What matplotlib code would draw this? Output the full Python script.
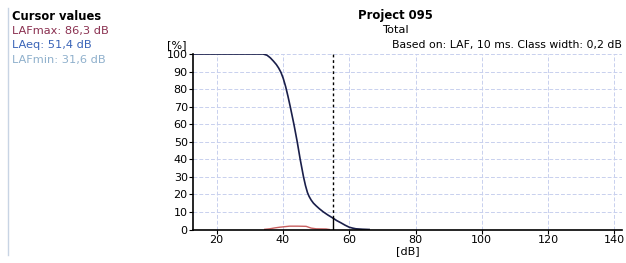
import numpy as np
import matplotlib.pyplot as plt

# cumulative distribution (% of time level exceeded)
level_db = [12.9, 34.0, 35.2, 36.2, 37.1, 38.0, 38.7, 39.4, 40.1, 40.8, 41.5, 42.2, 43.3, 44.3,
            45.2, 46.2, 46.8, 47.4, 47.9, 48.5, 49.2, 50.0, 51.0, 52.2, 53.6, 55.0, 56.2,
            57.5, 58.8, 60.0, 61.0, 62.0, 64.0, 66.0]
exceed_pct = [100, 100, 99.3, 97.8, 96.0, 94.0, 92.0, 89.5, 86.0, 81.5, 76.0, 70, 60, 50,
              40, 30, 25, 21, 18.8, 16.8, 15.0, 13.5, 11.8, 10, 8.2, 6.6, 5.1,
              3.8, 2.4, 1.3, 0.8, 0.4, 0.15, 0.0]

# level distribution per class (%)
dist_db = [34.5, 36.0, 37.5, 39.0, 40.5, 42.0, 44.5, 47.0, 48.5, 50.0, 53.0, 54.0]
dist_pct = [0.1, 0.4, 0.9, 1.3, 1.6, 1.9, 1.9, 1.8, 0.8, 0.4, 0.3, 0.0]

cursor_db = 55.0
cursor_pct = 6.6

cursor_labels = ['LAFmax: 86,3 dB', 'LAeq: 51,4 dB', 'LAFmin: 31,6 dB']
cursor_colors = ['#8a3050', '#3a64b8', '#8fb0cc']

plt.rcParams['font.family'] = 'DejaVu Sans'
fig = plt.figure(figsize=(6.26, 2.63), dpi=100)
ax = fig.add_axes([193.3 / 626, 1 - 229.5 / 263, (621.7 - 193.3) / 626, (229.5 - 54) / 263])

ax.plot(dist_db, dist_pct, color='#c86060', linewidth=1.0)
ax.plot(level_db, exceed_pct, color='#1a1f4a', linewidth=1.2)
ax.plot([cursor_db, cursor_db], [cursor_pct, 100], color='black',
        linestyle=(0, (2, 2)), linewidth=1.0)
ax.plot([cursor_db, cursor_db], [0, cursor_pct], color='black', linewidth=1.0)

ax.set_xlim(12.95, 142.2)
ax.set_ylim(0, 100)
ax.set_xticks([20, 40, 60, 80, 100, 120, 140])
ax.set_yticks(range(0, 101, 10))
ax.grid(True, color='#c8d0ee', linestyle=(0, (4, 2)), linewidth=0.7)
ax.set_axisbelow(True)
for s in ['top', 'right']:
    ax.spines[s].set_visible(False)
ax.spines['left'].set_linewidth(1.2)
ax.spines['bottom'].set_linewidth(1.2)
ax.tick_params(labelsize=8, length=3, width=0.8, pad=1)
ax.set_xlabel('[dB]', fontsize=8, labelpad=1)

fig.text(167 / 626, 1 - 45 / 263, '[%]', fontsize=8, va='center')
fig.text(395 / 626, 1 - 15 / 263, 'Project 095', fontsize=8.4, weight='bold',
         ha='center', va='center')
fig.text(395 / 626, 1 - 30 / 263, 'Total', fontsize=8.2, ha='center', va='center')
fig.text(622 / 626, 1 - 45 / 263, 'Based on: LAF, 10 ms. Class width: 0,2 dB',
         fontsize=7.8, ha='right', va='center')

fig.text(12 / 626, 1 - 16 / 263, 'Cursor values', fontsize=8.3, weight='bold', va='center')
for i, (lab, col) in enumerate(zip(cursor_labels, cursor_colors)):
    fig.text(12 / 626, 1 - (31 + 14.5 * i) / 263, lab, fontsize=8.2, color=col,
             va='center')
fig.add_artist(plt.Line2D([8 / 626, 8 / 626], [0.03, 0.97], color='#c8d4e4',
                          linewidth=1.0))

fig.savefig('out.png', dpi=100)
